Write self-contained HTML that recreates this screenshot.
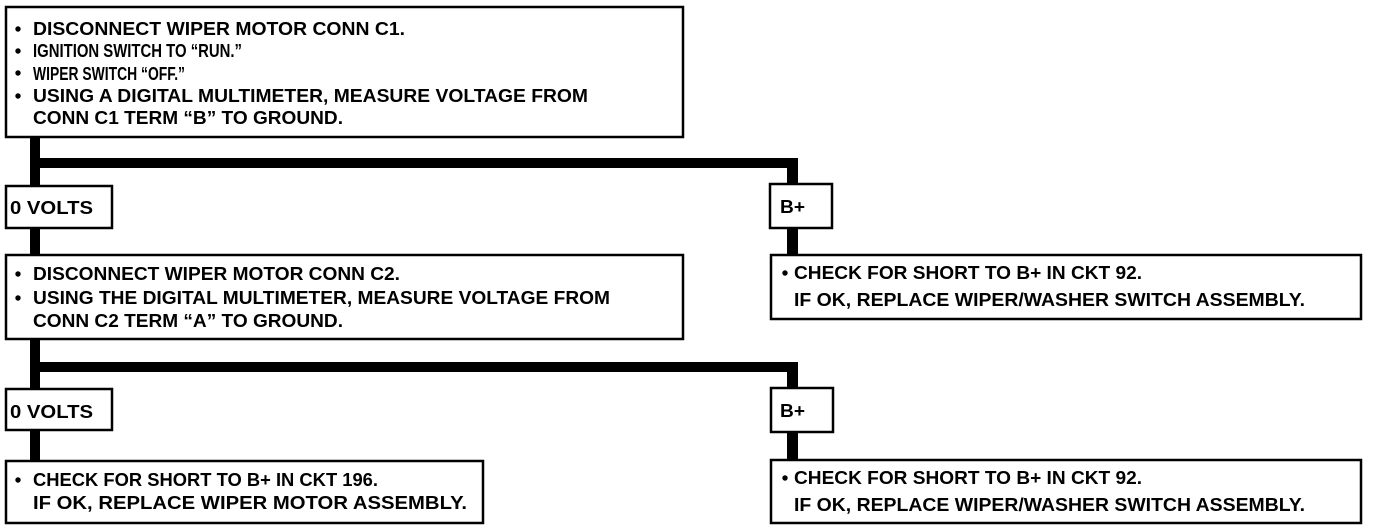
<!DOCTYPE html>
<html><head><style>
html,body{margin:0;padding:0;background:#fff;width:1376px;height:532px;overflow:hidden}
svg text{font-family:"Liberation Sans",Arial,sans-serif;font-weight:bold;font-size:18px;fill:#000}
</style></head><body>
<svg width="1376" height="532" viewBox="0 0 1376 532" xmlns="http://www.w3.org/2000/svg">
<g fill="#000">
<rect x="30" y="137" width="10" height="48"/>
<rect x="30" y="158" width="768" height="10"/>
<rect x="787" y="158" width="11" height="26"/>
<rect x="30" y="228" width="10" height="27"/>
<rect x="787" y="228" width="11" height="27"/>
<rect x="30" y="339" width="10" height="50"/>
<rect x="30" y="362" width="768" height="10"/>
<rect x="787" y="362" width="11" height="26"/>
<rect x="30" y="430" width="10" height="30"/>
<rect x="787" y="432" width="11" height="28"/>
</g>
<g fill="#fff" stroke="#000" stroke-width="2.5">
<rect x="6" y="7" width="677" height="130"/>
<rect x="6" y="186" width="106" height="42"/>
<rect x="770" y="184" width="62" height="44"/>
<rect x="6" y="255" width="677" height="84"/>
<rect x="771" y="255" width="590" height="64"/>
<rect x="6" y="389" width="106" height="41"/>
<rect x="771" y="388" width="62" height="44"/>
<rect x="6" y="461" width="477" height="62"/>
<rect x="771" y="460" width="590" height="63"/>
</g>
<g fill="#000">
<circle cx="18" cy="29" r="2.7"/><circle cx="18" cy="51" r="2.7"/><circle cx="18" cy="73" r="2.7"/><circle cx="18" cy="96" r="2.7"/>
<circle cx="18" cy="274" r="2.7"/><circle cx="18" cy="298" r="2.7"/>
<circle cx="18" cy="480" r="2.7"/>
<circle cx="785" cy="273" r="2.7"/><circle cx="785" cy="478" r="2.7"/>
</g>
<text x="33" y="35" textLength="372" lengthAdjust="spacingAndGlyphs">DISCONNECT WIPER MOTOR CONN C1.</text>
<text x="33" y="57" textLength="209" lengthAdjust="spacingAndGlyphs">IGNITION SWITCH TO “RUN.”</text>
<text x="33" y="80" textLength="152" lengthAdjust="spacingAndGlyphs">WIPER SWITCH “OFF.”</text>
<text x="33" y="102" textLength="555" lengthAdjust="spacingAndGlyphs">USING A DIGITAL MULTIMETER, MEASURE VOLTAGE FROM</text>
<text x="33" y="124" textLength="310" lengthAdjust="spacingAndGlyphs">CONN C1 TERM “B” TO GROUND.</text>
<text x="10" y="214" textLength="83" lengthAdjust="spacingAndGlyphs">0 VOLTS</text>
<text x="780" y="213" textLength="25" lengthAdjust="spacingAndGlyphs">B+</text>
<text x="33" y="280" textLength="367" lengthAdjust="spacingAndGlyphs">DISCONNECT WIPER MOTOR CONN C2.</text>
<text x="33" y="304" textLength="577" lengthAdjust="spacingAndGlyphs">USING THE DIGITAL MULTIMETER, MEASURE VOLTAGE FROM</text>
<text x="33" y="327" textLength="310" lengthAdjust="spacingAndGlyphs">CONN C2 TERM “A” TO GROUND.</text>
<text x="794" y="279" textLength="348" lengthAdjust="spacingAndGlyphs">CHECK FOR SHORT TO B+ IN CKT 92.</text>
<text x="794" y="306" textLength="511" lengthAdjust="spacingAndGlyphs">IF OK, REPLACE WIPER/WASHER SWITCH ASSEMBLY.</text>
<text x="10" y="418" textLength="83" lengthAdjust="spacingAndGlyphs">0 VOLTS</text>
<text x="780" y="417" textLength="25" lengthAdjust="spacingAndGlyphs">B+</text>
<text x="33" y="486" textLength="345" lengthAdjust="spacingAndGlyphs">CHECK FOR SHORT TO B+ IN CKT 196.</text>
<text x="33" y="509" textLength="434" lengthAdjust="spacingAndGlyphs">IF OK, REPLACE WIPER MOTOR ASSEMBLY.</text>
<text x="794" y="484" textLength="348" lengthAdjust="spacingAndGlyphs">CHECK FOR SHORT TO B+ IN CKT 92.</text>
<text x="794" y="511" textLength="511" lengthAdjust="spacingAndGlyphs">IF OK, REPLACE WIPER/WASHER SWITCH ASSEMBLY.</text>
</svg>
</body></html>
